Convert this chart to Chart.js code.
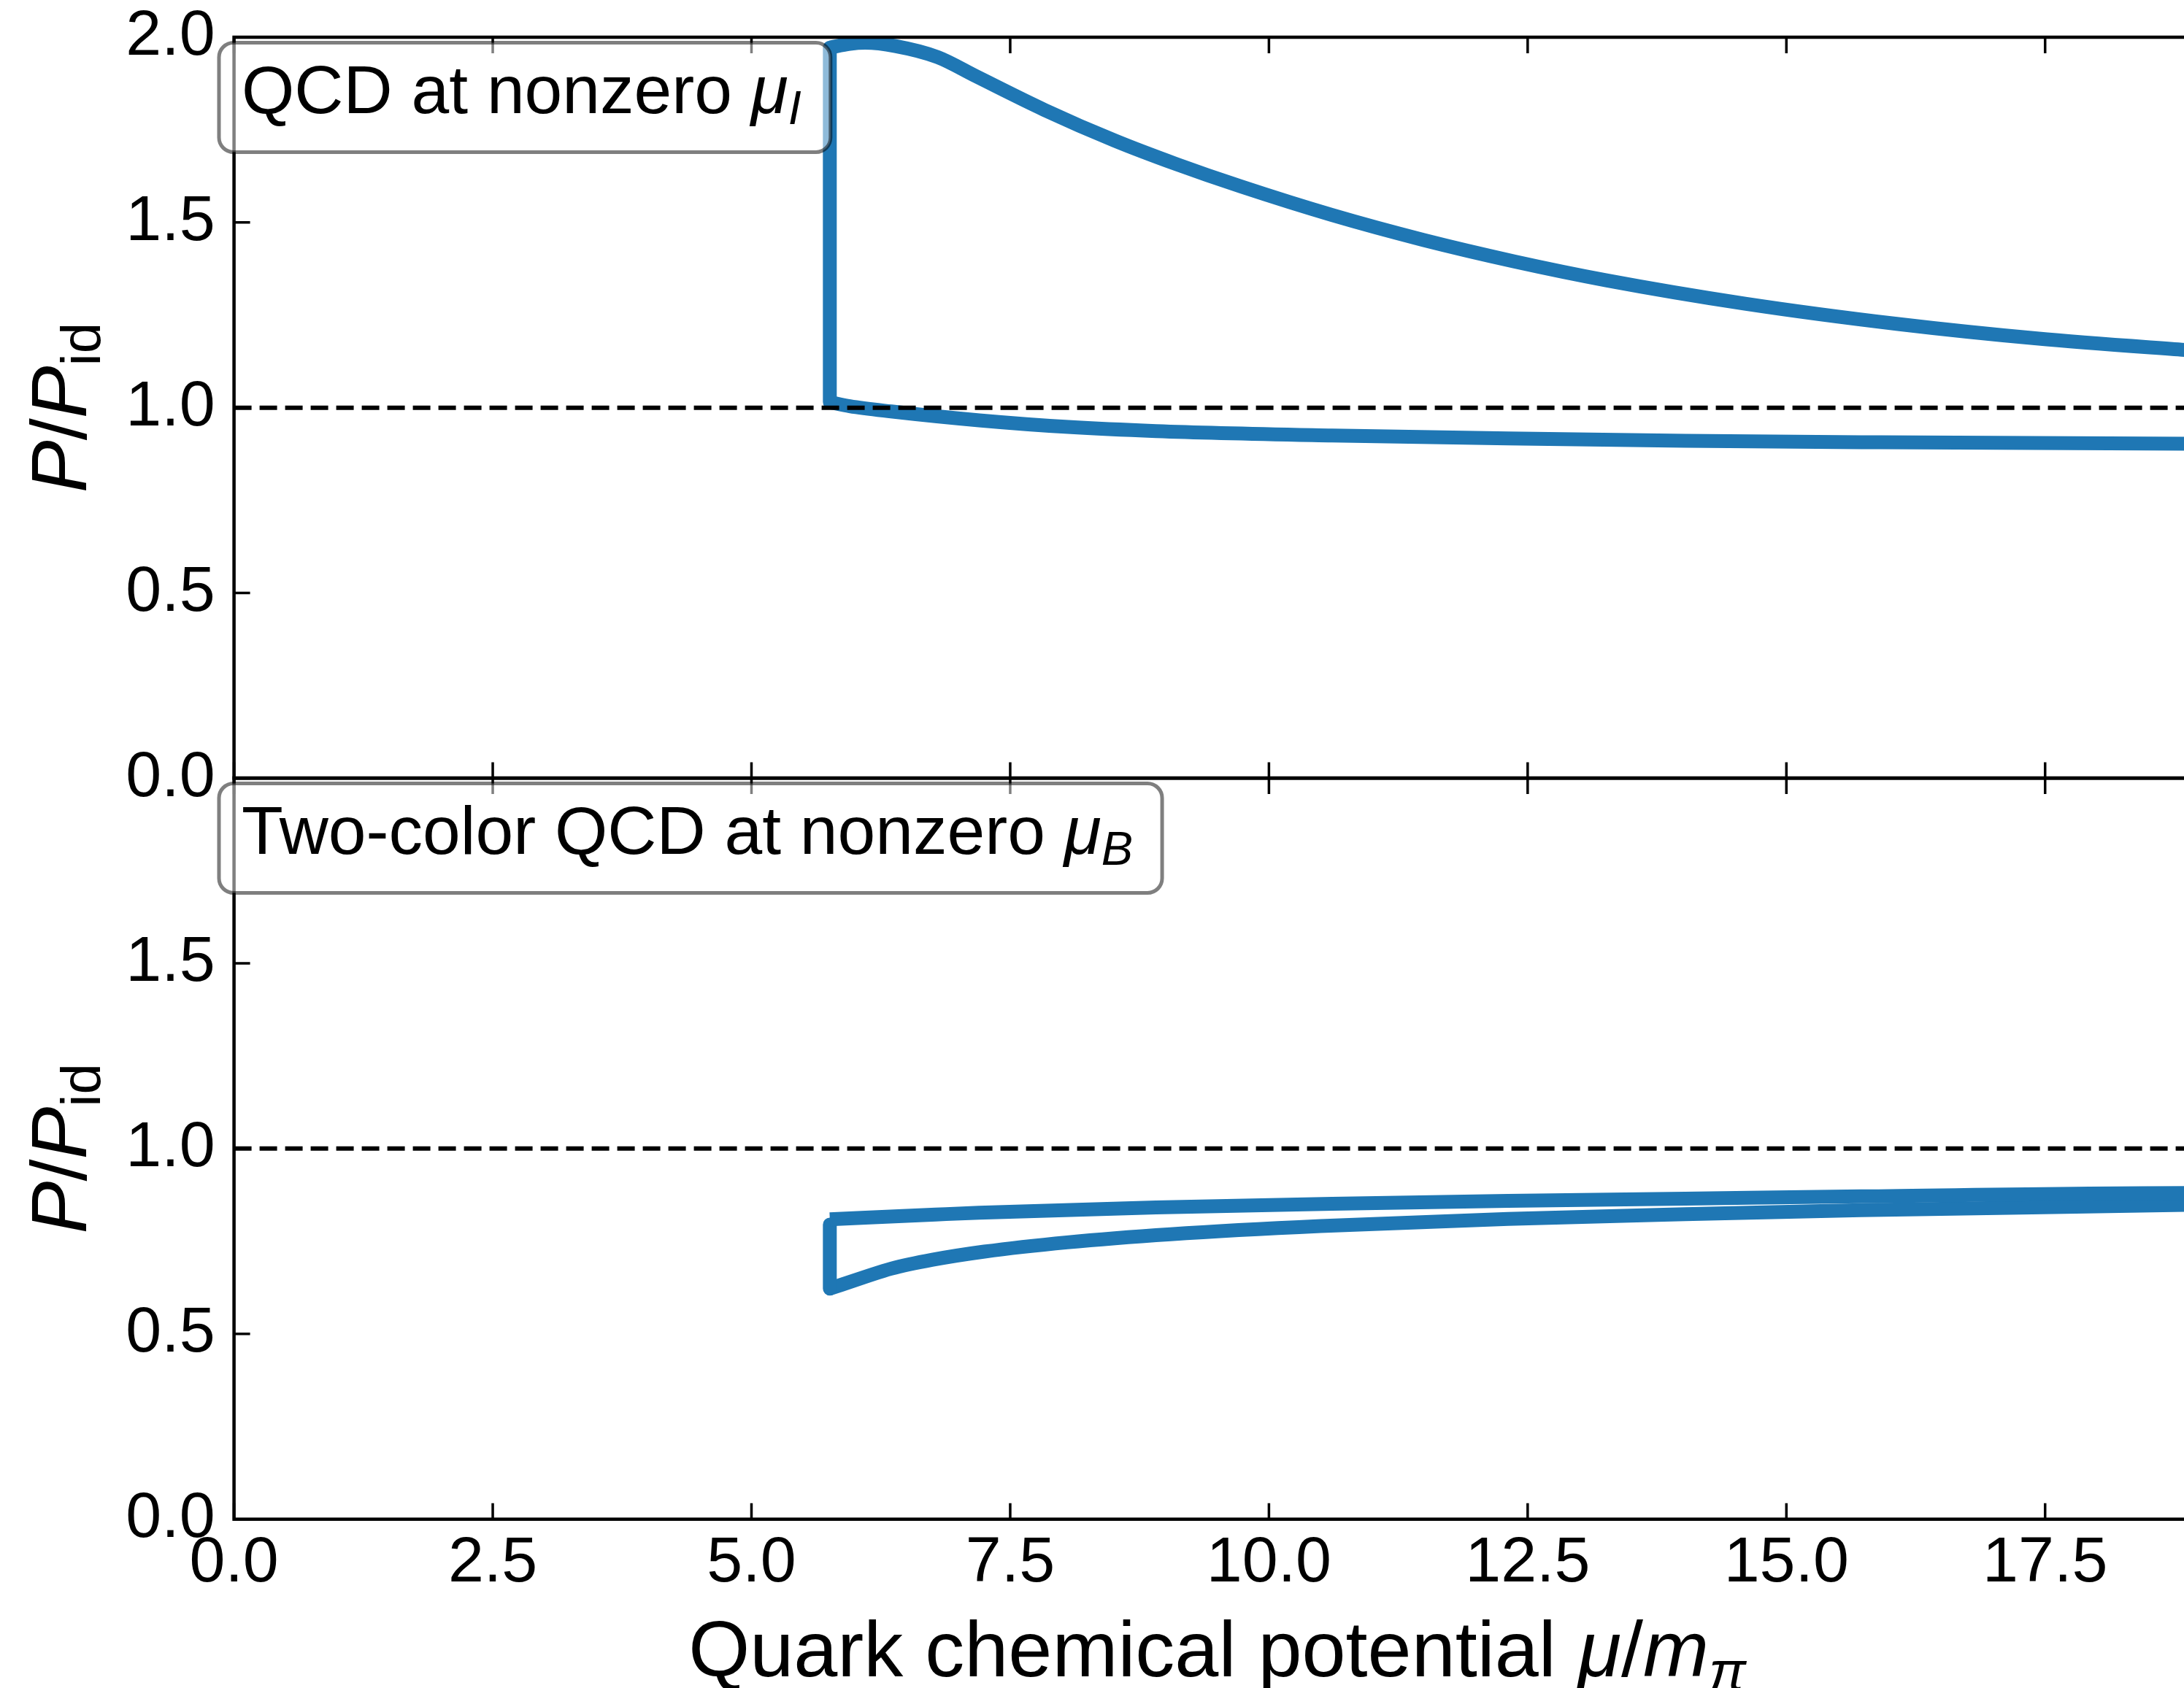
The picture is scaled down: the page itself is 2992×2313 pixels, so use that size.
<!DOCTYPE html>
<html>
<head>
<meta charset="utf-8">
<script src="https://cdn.jsdelivr.net/npm/chart.js@4.4.1/dist/chart.umd.min.js"></script>
<style>
  html, body { margin: 0; padding: 0; overflow: hidden; background: #ffffff; }
  #figure { position: relative; width: 3040px; height: 2313px; }
  .panel { position: absolute; left: 0; width: 3040px; }
  #topWrap { top: -59.4px; height: 1235.4px; }
  #bottomWrap { top: 956px; height: 1357px; }
</style>
</head>
<body>
<div id="figure">
  <div class="panel" id="topWrap"><canvas id="isospinChart"></canvas></div>
  <div class="panel" id="bottomWrap"><canvas id="twoColorChart"></canvas></div>
</div>
<script>
// axis ranges and ticks
const X_MIN = 0;
const X_MAX = 19;
const xTickValues = [0, 2.5, 5, 7.5, 10, 12.5, 15, 17.5];
const yTickValuesTop = [0, 0.5, 1, 1.5, 2];
const yTickValuesBottom = [0, 0.5, 1, 1.5];

// ideal-gas reference P/P_id = 1
const refX = [0, 19];
const refY = [1, 1];

// QCD at nonzero isospin chemical potential
const isoJumpX = [5.757, 5.757];
const isoJumpY = [1.972, 1.015];
const isoUpperX = [5.757, 5.95, 6.10, 6.39, 6.80, 7.16, 7.83, 8.51, 9.10, 9.73, 10.61, 11.49, 12.37, 13.26, 14.60, 16.08, 17.42, 18.85, 19.0];
const isoUpperY = [1.972, 1.982, 1.985, 1.976, 1.946, 1.896, 1.804, 1.721, 1.658, 1.597, 1.520, 1.453, 1.395, 1.344, 1.281, 1.226, 1.187, 1.156, 1.153];
const isoLowerX = [5.757, 5.95, 6.35, 7.20, 8.06, 8.91, 10.61, 12.31, 14.02, 15.72, 18.85, 19.0];
const isoLowerY = [1.015, 1.004, 0.990, 0.966, 0.948, 0.937, 0.925, 0.917, 0.911, 0.907, 0.903, 0.903];

// two-color QCD at nonzero baryon chemical potential
const qc2JumpX = [5.757, 5.757];
const qc2JumpY = [0.795, 0.622];
const qc2UpperX = [5.757, 6.78, 7.20, 8.91, 10.61, 12.31, 14.02, 15.72, 18.85, 19.0];
const qc2UpperY = [0.809, 0.822, 0.827, 0.841, 0.851, 0.859, 0.865, 0.871, 0.880, 0.880];
const qc2LowerX = [5.757, 6.10, 6.35, 6.75, 7.25, 8.05, 9.05, 10.5, 12.31, 14.02, 15.72, 18.85, 19.0];
const qc2LowerY = [0.622, 0.654, 0.676, 0.700, 0.722, 0.747, 0.769, 0.791, 0.810, 0.823, 0.834, 0.848, 0.849];

const FONT = '"Liberation Sans", Arial, Helvetica, sans-serif';
const BLUE = "#1f77b4";
const TICK_LEN = 22;
const PLOT_LEFT = 320.6;
const PLOT_RIGHT = 3014.4;

const toPoints = (xs, ys) => xs.map((x, i) => ({ x: x, y: ys[i] }));

function curve(xs, ys) {
    return {
        data: toPoints(xs, ys),
        showLine: true,
        borderColor: BLUE,
        borderWidth: 19,
        borderJoinStyle: "round",
        cubicInterpolationMode: "monotone",
        pointRadius: 0,
        fill: false,
    };
}

function jump(xs, ys) {
    return {
        data: toPoints(xs, ys),
        showLine: true,
        borderColor: BLUE,
        borderWidth: 19,
        borderCapStyle: "round",
        pointRadius: 0,
        fill: false,
    };
}

function refLine() {
    return {
        data: toPoints(refX, refY),
        showLine: true,
        borderColor: "#000000",
        borderWidth: 6,
        borderDash: [24, 11],
        pointRadius: 0,
        fill: false,
    };
}

function partsWidth(ctx, parts) {
    let w = 0;
    for (const p of parts) {
        ctx.font = p.font;
        w += ctx.measureText(p.text).width;
    }
    return w;
}

function drawParts(ctx, parts, x, y) {
    let cx = x;
    for (const p of parts) {
        ctx.font = p.font;
        ctx.fillText(p.text, cx, y + (p.dy || 0));
        cx += ctx.measureText(p.text).width;
    }
}

const regular = (size) => `${size}px ${FONT}`;
const italic = (size) => `italic ${size}px ${FONT}`;

const yTitleParts = [
    { text: "P", font: italic(108) },
    { text: "/", font: regular(108) },
    { text: "P", font: italic(108) },
    { text: "id", font: regular(76), dy: 19 },
];

const xTitleParts = [
    { text: "Quark chemical potential ", font: regular(108) },
    { text: "μ", font: italic(108) },
    { text: "/", font: regular(108) },
    { text: "m", font: italic(108) },
    { text: "π", font: italic(76), dy: 19 },
];

const isoLabelParts = [
    { text: "QCD at nonzero ", font: regular(93) },
    { text: "μ", font: italic(93) },
    { text: "I", font: italic(65), dy: 15 },
];

const qc2LabelParts = [
    { text: "Two-color QCD at nonzero ", font: regular(93) },
    { text: "μ", font: italic(93) },
    { text: "B", font: italic(65), dy: 15 },
];

function roundRect(ctx, x, y, w, h, r) {
    ctx.beginPath();
    ctx.moveTo(x + r, y);
    ctx.lineTo(x + w - r, y);
    ctx.arcTo(x + w, y, x + w, y + r, r);
    ctx.lineTo(x + w, y + h - r);
    ctx.arcTo(x + w, y + h, x + w - r, y + h, r);
    ctx.lineTo(x + r, y + h);
    ctx.arcTo(x, y + h, x, y + h - r, r);
    ctx.lineTo(x, y + r);
    ctx.arcTo(x, y, x + r, y, r);
    ctx.closePath();
}

// frame, inward ticks, label box and axis titles for one panel
function panelDecor(tickMarksY, labelParts, withXTitle) {
    return {
        id: "panelDecor",
        afterDatasetsDraw(chart) {
            const { ctx, chartArea: a, scales } = chart;
            ctx.save();
            ctx.strokeStyle = "#000000";
            ctx.lineWidth = 3.5;
            ctx.beginPath();
            for (const v of xTickValues) {
                const px = scales.x.getPixelForValue(v);
                ctx.moveTo(px, a.top);
                ctx.lineTo(px, a.top + TICK_LEN);
                ctx.moveTo(px, a.bottom);
                ctx.lineTo(px, a.bottom - TICK_LEN);
            }
            for (const v of tickMarksY) {
                const py = scales.y.getPixelForValue(v);
                ctx.moveTo(a.left, py);
                ctx.lineTo(a.left + TICK_LEN, py);
                ctx.moveTo(a.right, py);
                ctx.lineTo(a.right - TICK_LEN, py);
            }
            ctx.stroke();
            ctx.lineWidth = 4.5;
            ctx.strokeRect(a.left, a.top, a.right - a.left, a.bottom - a.top);
            ctx.restore();
        },
        afterDraw(chart) {
            const { ctx, chartArea: a } = chart;
            ctx.save();
            ctx.fillStyle = "#000000";
            ctx.textBaseline = "alphabetic";

            // annotation box in the upper left corner
            const textX = 331;
            const baseY = a.top + 103.5;
            const w = partsWidth(ctx, labelParts);
            const boxX = 300;
            const boxY = a.top + 7.5;
            const boxW = textX - boxX + w + 40;
            const boxH = 150;
            roundRect(ctx, boxX, boxY, boxW, boxH, 20);
            ctx.fillStyle = "rgba(255, 255, 255, 0.5)";
            ctx.fill();
            ctx.lineWidth = 5;
            ctx.strokeStyle = "rgba(0, 0, 0, 0.5)";
            ctx.stroke();
            ctx.fillStyle = "#000000";
            drawParts(ctx, labelParts, textX, baseY);

            // rotated y title
            const yw = partsWidth(ctx, yTitleParts);
            ctx.save();
            ctx.translate(118, (a.top + a.bottom) / 2);
            ctx.rotate(-Math.PI / 2);
            drawParts(ctx, yTitleParts, -yw / 2, 0);
            ctx.restore();

            if (withXTitle) {
                const xw = partsWidth(ctx, xTitleParts);
                drawParts(ctx, xTitleParts, (a.left + a.right) / 2 - xw / 2, a.bottom + 215.3);
            }
            ctx.restore();
        },
    };
}

function panelConfig(datasets, yTicks, tickMarksY, labelParts, bottomPanel, padding) {
    return {
        type: "scatter",
        data: { datasets: datasets },
        options: {
            responsive: true,
            maintainAspectRatio: false,
            animation: false,
            devicePixelRatio: 1,
            events: [],
            layout: { padding: padding },
            plugins: {
                legend: { display: false },
                tooltip: { enabled: false },
            },
            scales: {
                x: {
                    type: "linear",
                    min: X_MIN,
                    max: X_MAX,
                    display: bottomPanel,
                    grid: { display: false, drawTicks: false },
                    border: { display: false },
                    afterBuildTicks: (scale) => {
                        scale.ticks = xTickValues.map((v) => ({ value: v }));
                    },
                    afterFit: (scale) => {
                        scale.height = bottomPanel ? 231.3 : 0;
                    },
                    ticks: {
                        color: "#000000",
                        font: { family: FONT, size: 88 },
                        padding: 8,
                        maxRotation: 0,
                        autoSkip: false,
                        callback: (v) => Number(v).toFixed(1),
                    },
                },
                y: {
                    type: "linear",
                    min: 0,
                    max: 2,
                    grid: { display: false, drawTicks: false },
                    border: { display: false },
                    afterBuildTicks: (scale) => {
                        scale.ticks = yTicks.map((v) => ({ value: v }));
                    },
                    afterFit: (scale) => {
                        scale.width = PLOT_LEFT;
                    },
                    ticks: {
                        color: "#000000",
                        font: { family: FONT, size: 88 },
                        padding: 26,
                        autoSkip: false,
                        callback: (v) => Number(v).toFixed(1),
                    },
                },
            },
        },
        plugins: [panelDecor(tickMarksY, labelParts, bottomPanel)],
    };
}

new Chart(
    document.getElementById("isospinChart"),
    panelConfig(
        [refLine(), curve(isoUpperX, isoUpperY), jump(isoJumpX, isoJumpY), curve(isoLowerX, isoLowerY)],
        yTickValuesTop,
        yTickValuesTop,
        isoLabelParts,
        false,
        { left: 0, top: 110, right: 3040 - PLOT_RIGHT, bottom: 110 }
    )
);

new Chart(
    document.getElementById("twoColorChart"),
    panelConfig(
        [refLine(), curve(qc2UpperX, qc2UpperY), jump(qc2JumpX, qc2JumpY), curve(qc2LowerX, qc2LowerY)],
        yTickValuesBottom,
        yTickValuesTop,
        qc2LabelParts,
        true,
        { left: 0, top: 110, right: 3040 - PLOT_RIGHT, bottom: 0 }
    )
);
</script>
</body>
</html>
